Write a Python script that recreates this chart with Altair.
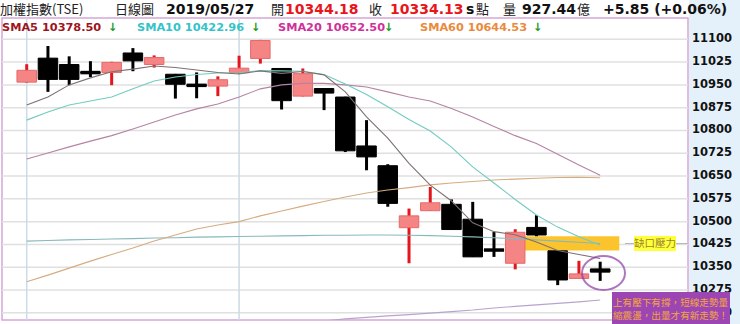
import altair as alt
import pandas as pd

# ---------------- data ----------------
idx = list(range(28))
opens = [10959, 11038, 11017, 10992, 10991, 11055, 11017, 10985, 10950, 10946,
         10990, 11037, 11004, 10913, 10938, 10910, 10749, 10684, 10480, 10536,
         10557, 10508, 10408, 10363, 10481, 10404, 10313, 10344.18]
highs = [11018, 11078, 11044, 11028, 11026, 11071, 11047, 10986, 10991, 10978,
         11046, 11098, 11005, 11004, 10939, 10911, 10834, 10689, 10543, 10614,
         10573, 10565, 10466, 10475, 10521, 10405, 10371, 10368]
lows = [10957, 10927, 10949, 10976, 10949, 10995, 11007, 10905, 10906, 10913,
        10987, 11020, 10869, 10912, 10867, 10729, 10669, 10549, 10363, 10535,
        10474, 10384, 10384, 10343, 10452, 10291, 10313, 10305]
closes = [10998, 10968, 10968, 10989, 11024, 11029, 11040, 10952, 10947, 10967,
          11005, 11096, 10898, 10987, 10923, 10733, 10713, 10560, 10519, 10562,
          10474, 10384, 10405, 10465, 10456, 10308, 10328, 10334.13]

sma5 = [10884, 10910, 10950, 10973, 10993, 11002, 11012, 11007, 10999, 10991,
        10986, 10996, 10988, 10994, 10983, 10927, 10845, 10775, 10692, 10620,
        10568, 10496, 10467, 10457, 10433, 10405, 10392, 10378.50]
sma10 = [10834, 10861, 10884, 10897, 10910, 10937, 10963, 10976, 10984, 10989,
         10990, 10997, 10996, 10995, 10984, 10953, 10918, 10878, 10836, 10798,
         10745, 10680, 10627, 10573, 10522, 10482, 10450, 10422.96]
sma20 = [10706, 10726, 10746, 10765, 10783, 10805, 10828, 10851, 10871, 10887,
         10910, 10937, 10950, 10955, 10955, 10950, 10943, 10927, 10910, 10897,
         10872, 10844, 10813, 10783, 10757, 10722, 10686, 10652.50]
sma60 = [10302, 10324, 10347, 10370, 10392, 10413, 10436, 10456, 10476, 10489,
         10500, 10519, 10535, 10551, 10566, 10581, 10594, 10604, 10612, 10621,
         10627, 10632, 10637, 10640, 10643, 10645, 10646, 10644.53]
ma_long = [10436, 10438, 10440, 10441, 10443, 10444, 10446, 10447, 10449, 10450,
           10451, 10452, 10453, 10454, 10455, 10455, 10456, 10456, 10455, 10454,
           10452, 10450, 10447, 10444, 10440, 10436, 10432, 10428]
ma_bottom_start = 13
ma_bottom = [10168, 10173, 10180, 10185, 10190, 10194, 10199, 10204, 10209,
             10216, 10221, 10226, 10231, 10236, 10242]

y_ticks = [10200, 10275, 10350, 10425, 10500, 10575, 10650, 10725, 10800,
           10875, 10950, 11025, 11100]
v_grid = [0, 10]

header_row1 = [
    ("加權指數(TSE)", 0, "#222222", 13, False, "Noto Sans CJK TC"),
    ("日線圖", 115, "#222222", 13, False, "Noto Sans CJK TC"),
    ("2019/05/27", 166, "#111111", 14, True, "DejaVu Sans"),
    ("開", 271, "#222222", 13, False, "Noto Sans CJK TC"),
    ("10344.18", 285, "#e8151b", 14, True, "DejaVu Sans"),
    ("收", 369, "#222222", 13, False, "Noto Sans CJK TC"),
    ("10334.13", 390, "#e8151b", 14, True, "DejaVu Sans"),
    ("s", 466, "#111111", 14, True, "DejaVu Sans"),
    ("點", 476, "#222222", 13, False, "Noto Sans CJK TC"),
    ("量", 503, "#222222", 13, False, "Noto Sans CJK TC"),
    ("927.44", 522, "#111111", 14, True, "DejaVu Sans"),
    ("億", 577, "#222222", 13, False, "Noto Sans CJK TC"),
    ("+5.85 (+0.06%)", 603, "#111111", 14, True, "DejaVu Sans"),
]
header_row2 = [
    ("SMA5 10378.50", 2, "#a0141e"),
    ("↓", 108, "#1e9a1e"),
    ("SMA10 10422.96", 137, "#33c3c9"),
    ("↓", 251, "#1e9a1e"),
    ("SMA20 10652.50", 278, "#d0309a"),
    ("↓", 384, "#1e9a1e"),
    ("SMA60 10644.53", 420, "#ea8a3c"),
    ("↓", 533, "#1e9a1e"),
]

# ---------------- layout ----------------
W, H = 686, 302
PL, PT = 2, 18
xs = alt.Scale(domain=[-0.928, 30.9], nice=False, zero=False)
ys = alt.Scale(domain=[10176.3, 11170.1], nice=False, zero=False)
X = alt.X("i:Q", scale=xs, axis=None)
one = alt.Data(values=[{"k": 1}])

layers = []

# light blue axis strip
layers.append(alt.Chart(one).mark_rect(color="#e4f1fb").encode(
    x=alt.value(687), x2=alt.value(740), y=alt.value(-PT), y2=alt.value(H + 8)))

# horizontal grid
tdf = pd.DataFrame({"v": y_ticks})
layers.append(alt.Chart(tdf).mark_rule(color="#e0e0e0", strokeWidth=1.5).encode(
    y=alt.Y("v:Q", scale=ys, axis=None), x=alt.value(0), x2=alt.value(W)))
# vertical grid
layers.append(alt.Chart(pd.DataFrame({"i": v_grid})).mark_rule(
    color="#cddbe4", strokeWidth=1.5).encode(x=X, y=alt.value(0), y2=alt.value(H)))

# gap band (between candle 25 low and candle 26 high)
gdf = pd.DataFrame({"x1": [23.45], "x2": [27.9],
                    "y1": [highs[25]], "y2": [lows[24]]})
layers.append(alt.Chart(gdf).mark_rect(color="#fcc42c").encode(
    x=alt.X("x1:Q", scale=xs, axis=None), x2="x2:Q",
    y=alt.Y("y1:Q", scale=ys, axis=None), y2="y2:Q"))

# candles
cdf = pd.DataFrame({"i": idx, "open": opens, "high": highs, "low": lows, "close": closes})
up = "datum.close >= datum.open"
base = alt.Chart(cdf)
layers.append(base.mark_rule(strokeWidth=3).encode(
    x=X, y=alt.Y("low:Q", scale=ys, axis=None), y2="high:Q",
    color=alt.condition(up, alt.value("#e3161d"), alt.value("#000000"))))
layers.append(base.mark_bar(size=19.5, strokeWidth=1).encode(
    x=X, y=alt.Y("open:Q", scale=ys, axis=None), y2="close:Q",
    fill=alt.condition(up, alt.value("#f58484"), alt.value("#000000")),
    stroke=alt.condition(up, alt.value("#e66a6a"), alt.value("#000000"))))
layers.append(base.transform_filter("abs(datum.open - datum.close) < 12")
              .transform_calculate(xl="datum.i - 0.47", xr="datum.i + 0.47",
                                   ym="(datum.open + datum.close) / 2")
              .mark_rule(strokeWidth=3.5, color="#000000").encode(
                  x=alt.X("xl:Q", scale=xs, axis=None), x2="xr:Q",
                  y=alt.Y("ym:Q", scale=ys, axis=None)))

# moving average lines
series = [
    (idx, ma_long, "#86b9bc"),
    (idx[ma_bottom_start:], ma_bottom, "#b9a3cc"),
    (idx, sma60, "#d6ac80"),
    (idx, sma20, "#b583a4"),
    (idx, sma10, "#72cbc0"),
    (idx, sma5, "#7d7171"),
]
for xi, vals, col in series:
    d = pd.DataFrame({"i": xi, "v": vals})
    layers.append(alt.Chart(d).mark_line(color=col, strokeWidth=1.1, clip=True).encode(
        x=X, y=alt.Y("v:Q", scale=ys, axis=None)))

# ellipse around last candle
ell = "M-1,0A1,0.79 0 1,1 1,0A1,0.79 0 1,1 -1,0Z"
layers.append(alt.Chart(one).mark_point(shape=ell, size=1849, filled=False,
                                         stroke="#8e3da6", strokeWidth=2).encode(
    x=alt.value(603.5 - PL), y=alt.value(273 - PT)))

# gap label
layers.append(alt.Chart(one).mark_rule(color="#b8b8b8", strokeWidth=1).encode(
    x=alt.value(625 - PL), x2=alt.value(W), y=alt.value(243.5 - PT)))
layers.append(alt.Chart(one).mark_rect(color="#ffff3a").encode(
    x=alt.value(634 - PL), x2=alt.value(676 - PL), y=alt.value(236 - PT), y2=alt.value(251 - PT)))
layers.append(alt.Chart(one).mark_text(text="缺口壓力", align="center", baseline="middle",
                                        font="Noto Sans CJK TC", fontSize=10.5, color="#9a8530").encode(
    x=alt.value(655 - PL), y=alt.value(243.5 - PT)))

# y-axis labels
layers.append(alt.Chart(tdf).mark_text(align="left", baseline="middle", font="DejaVu Sans",
                                        fontWeight="bold", fontSize=11.5, color="#111111").encode(
    x=alt.value(692 - PL), y=alt.Y("v:Q", scale=ys, axis=None), text=alt.Text("v:Q", format="d")))

# purple comment box
layers.append(alt.Chart(one).mark_rect(color="#9b46b3").encode(
    x=alt.value(612 - PL), x2=alt.value(730 - PL), y=alt.value(292 - PT), y2=alt.value(H + 8)))
for s, yy in [("上有壓下有撐，短線走勢量", 303), ("縮震盪，出量才有新走勢！", 316)]:
    layers.append(alt.Chart(one).mark_text(text=s, align="left", baseline="middle",
                                            font="Noto Sans CJK TC", fontSize=9.6,
                                            color="#f5a53c").encode(
        x=alt.value(613 - PL), y=alt.value(yy - PT)))

# header texts
for s, xx, col, sz, bold, font in header_row1:
    layers.append(alt.Chart(one).mark_text(text=s, align="left", baseline="middle", font=font,
                                            fontSize=sz, fontWeight="bold" if bold else "normal",
                                            color=col).encode(
        x=alt.value(xx - PL), y=alt.value(10 - PT)))
for s, xx, col in header_row2:
    layers.append(alt.Chart(one).mark_text(text=s, align="left", baseline="middle",
                                            font="DejaVu Sans", fontSize=11.3, fontWeight="bold",
                                            color=col).encode(
        x=alt.value(xx - PL), y=alt.value(27.5 - PT)))

chart = alt.layer(*layers).properties(
    width=W, height=H,
    autosize=alt.AutoSizeParams(type="none"),
    padding={"left": PL, "top": PT, "right": 740 - PL - W, "bottom": 324 - PT - H},
    background="white",
).configure_view(stroke="#d8a6d8", strokeWidth=1.5)

chart.save("out.html", embed_options={"renderer": "svg", "actions": False})
